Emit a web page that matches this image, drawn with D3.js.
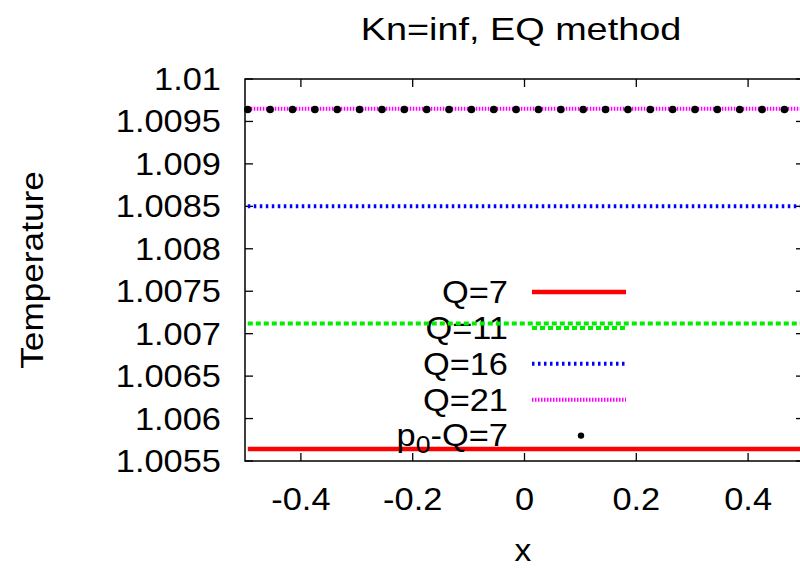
<!DOCTYPE html>
<html>
<head>
<meta charset="utf-8">
<script src="https://cdn.jsdelivr.net/npm/d3@7"></script>
<style>
  html, body { margin: 0; padding: 0; background: #fff; }
  svg { display: block; font-family: "Liberation Sans", Arial, sans-serif; }
</style>
</head>
<body>
<svg id="chart" width="800" height="569"></svg>
<script>
// Temperature profiles across the domain for several quadrature orders
const titleText = "Kn=inf, EQ method";
const xLabel = "x";
const yLabel = "Temperature";

const xTicks = [-0.4, -0.2, 0, 0.2, 0.4];
const xTickLabels = ["-0.4", "-0.2", "0", "0.2", "0.4"];
const yTicks = [1.0055, 1.006, 1.0065, 1.007, 1.0075, 1.008, 1.0085, 1.009, 1.0095, 1.01];
const yTickLabels = ["1.0055", "1.006", "1.0065", "1.007", "1.0075", "1.008", "1.0085", "1.009", "1.0095", "1.01"];

// Line series: x end points and temperature values
const lineX = [-0.495, 0.495];
const q7 = [1.00564, 1.00564];
const q11 = [1.00712, 1.00712];
const q16 = [1.0085, 1.0085];
const q21 = [1.00965, 1.00965];

// Point series (every 4th cell centre)
const p0X = [-0.495, -0.455, -0.415, -0.375, -0.335, -0.295, -0.255, -0.215, -0.175,
             -0.135, -0.095, -0.055, -0.015, 0.025, 0.065, 0.105, 0.145, 0.185,
             0.225, 0.265, 0.305, 0.345, 0.385, 0.425, 0.465];
const p0Y = [1.00964, 1.00964, 1.00964, 1.00964, 1.00964, 1.00964, 1.00964, 1.00964, 1.00964,
             1.00964, 1.00964, 1.00964, 1.00964, 1.00964, 1.00964, 1.00964, 1.00964, 1.00964,
             1.00964, 1.00964, 1.00964, 1.00964, 1.00964, 1.00964, 1.00964];

const seriesNames = ["Q=7", "Q=11", "Q=16", "Q=21"];
const seriesValues = [q7, q11, q16, q21];
const seriesStyles = [
  { color: "#ff0000", width: 4.5, dash: null },
  { color: "#00ee00", width: 4, dash: "5,3" },
  { color: "#0000ff", width: 4, dash: "2.5,3.5" },
  { color: "#ff00ff", width: 4, dash: "1.5,1.5" }
];

const svg = d3.select("#chart");
const margin = { left: 245, right: 804, top: 79, bottom: 461 };

const x = d3.scaleLinear().domain([-0.5, 0.5]).range([margin.left, margin.right]);
const y = d3.scaleLinear().domain([1.0055, 1.01]).range([margin.bottom, margin.top]);

const FS = 31;      // base font size
const SX = 1.11;    // horizontal glyph stretch

function stretchedText(g, px, py, txt, anchor, size, sx) {
  return g.append("g")
    .attr("transform", `translate(${px},${py}) scale(${sx},1)`)
    .append("text")
    .attr("text-anchor", anchor)
    .attr("font-size", size)
    .attr("fill", "#000")
    .text(txt);
}

// Title
stretchedText(svg, 521, 40, titleText, "middle", FS, 1.22);

// Axis labels
stretchedText(svg, 523, 561, xLabel, "middle", 32, 1.05);
svg.append("g")
  .attr("transform", `translate(43,${(margin.top + margin.bottom) / 2}) rotate(-90) scale(1.1,1)`)
  .append("text")
  .attr("text-anchor", "middle")
  .attr("font-size", 32)
  .text(yLabel);

// Tick labels
yTicks.forEach((t, i) => {
  stretchedText(svg, 221, y(t) + 11, yTickLabels[i], "end", FS, SX);
});
xTicks.forEach((t, i) => {
  stretchedText(svg, x(t), 510, xTickLabels[i], "middle", FS, SX);
});

// Inward ticks on all four sides
const tickLen = 8;
const ticks = svg.append("g").attr("stroke", "#000").attr("stroke-width", 1.3);
yTicks.forEach(t => {
  ticks.append("line").attr("x1", margin.left).attr("x2", margin.left + tickLen).attr("y1", y(t)).attr("y2", y(t));
  ticks.append("line").attr("x1", margin.right).attr("x2", margin.right - tickLen).attr("y1", y(t)).attr("y2", y(t));
});
xTicks.forEach(t => {
  ticks.append("line").attr("x1", x(t)).attr("x2", x(t)).attr("y1", margin.bottom).attr("y2", margin.bottom - tickLen);
  ticks.append("line").attr("x1", x(t)).attr("x2", x(t)).attr("y1", margin.top).attr("y2", margin.top + tickLen);
});

// Frame
svg.append("rect")
  .attr("x", margin.left).attr("y", margin.top)
  .attr("width", margin.right - margin.left).attr("height", margin.bottom - margin.top)
  .attr("fill", "none").attr("stroke", "#000").attr("stroke-width", 1.5);

// Key layout
const keyTextX = 508, keySampleX1 = 532, keySampleX2 = 626, keyY0 = 292, keyStep = 35.9;

const line = d3.line().x(d => x(d[0])).y(d => y(d[1]));
const plotArea = svg.append("g");

seriesNames.forEach((name, i) => {
  const st = seriesStyles[i];
  const ky = keyY0 + i * keyStep;
  stretchedText(plotArea, keyTextX, ky + 11, name, "end", FS, SX);
  plotArea.append("line")
    .attr("x1", keySampleX1).attr("x2", keySampleX2).attr("y1", ky).attr("y2", ky)
    .attr("stroke", st.color).attr("stroke-width", st.width)
    .attr("stroke-dasharray", st.dash);
  plotArea.append("path")
    .datum(lineX.map((xv, j) => [xv, seriesValues[i][j]]))
    .attr("d", line)
    .attr("fill", "none")
    .attr("stroke", st.color).attr("stroke-width", st.width)
    .attr("stroke-dasharray", st.dash);
});

// Point series key with subscript
const pky = keyY0 + 4 * keyStep;
const pg = plotArea.append("g").attr("transform", `translate(${keyTextX},${pky + 10}) scale(${SX},1)`);
const pt = pg.append("text").attr("text-anchor", "end").attr("font-size", FS).attr("fill", "#000");
pt.append("tspan").text("p");
pt.append("tspan").attr("font-size", 24).attr("dy", 7).text("0");
pt.append("tspan").attr("dy", -7).text("-Q=7");
plotArea.append("circle")
  .attr("cx", (keySampleX1 + keySampleX2) / 2 + 2).attr("cy", pky).attr("r", 3.2)
  .attr("fill", "#000");

plotArea.append("g").selectAll("circle")
  .data(p0X.map((xv, j) => [xv, p0Y[j]]))
  .join("circle")
  .attr("cx", d => x(d[0])).attr("cy", d => y(d[1]))
  .attr("r", 3.8)
  .attr("fill", "#000");
</script>
</body>
</html>
